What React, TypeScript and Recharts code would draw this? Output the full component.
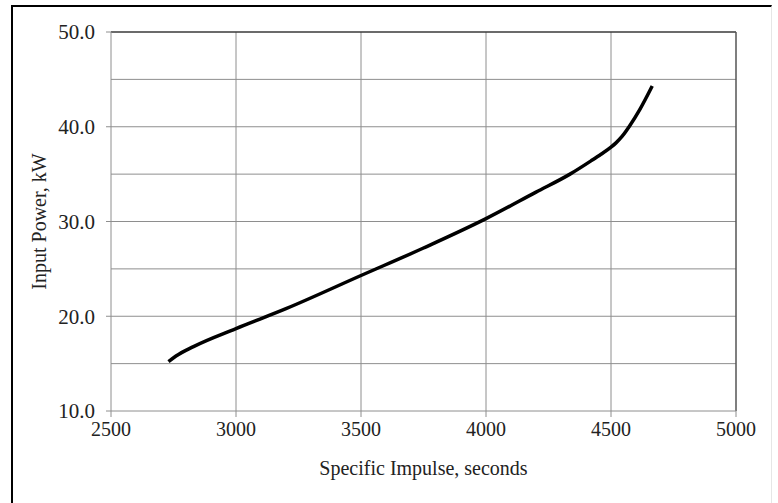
import {
  LineChart,
  Line,
  XAxis,
  YAxis,
  CartesianGrid,
  ReferenceLine,
} from "recharts";

// values
const impulse = [2730, 2760, 2830, 3000, 3200, 3500, 3750, 4000, 4200, 4336, 4420, 4460, 4500, 4520, 4545, 4575, 4615, 4665];
const power = [15.2, 15.8, 16.8, 18.7, 20.8, 24.3, 27.2, 30.3, 33.1, 35.0, 36.4, 37.1, 37.85, 38.3, 39.0, 40.1, 41.8, 44.3];

const xTicks = [2500, 3000, 3500, 4000, 4500, 5000];
const yTicks = [10, 20, 30, 40, 50];
const xGrid = [3000, 3500, 4000, 4500];
const yGrid = [15, 20, 25, 30, 35, 40, 45];

const data = impulse.map((x, i) => ({ x, y: power[i] }));

const FONT = '"Liberation Serif", "Times New Roman", serif';
const GRID = "#8e8e8e";

function YTitle({ viewBox }: { viewBox?: { x: number; y: number; width: number; height: number } }) {
  if (!viewBox) return null;
  const cx = viewBox.x + 39;
  const cy = viewBox.y + viewBox.height / 2;
  return (
    <text
      x={cx}
      y={cy}
      transform={`rotate(-90 ${cx} ${cy})`}
      textAnchor="middle"
      dominantBaseline="central"
      fill="#222"
      fontSize={20}
      fontFamily={FONT}
    >
      Input Power, kW
    </text>
  );
}

export default function App() {
  return (
    <div
      style={{
        position: "absolute",
        left: 0,
        top: 0,
        width: 778,
        height: 503,
        background: "#fff",
        fontFamily: FONT,
      }}
    >
      <div
        style={{
          position: "absolute",
          left: 11,
          top: 5,
          width: 758,
          height: 500,
          borderTop: "2.5px solid #000",
          borderLeft: "2.5px solid #000",
          borderRight: "1px solid #e6e6e6",
        }}
      />
      <div style={{ position: "absolute", left: 0, top: 0 }}>
        <LineChart
          width={778}
          height={503}
          data={data}
          margin={{ top: 32, right: 42, bottom: 0, left: 0 }}
        >
          <CartesianGrid
            stroke={GRID}
            strokeWidth={1}
            horizontalValues={yGrid}
            verticalValues={xGrid}
          />
          <XAxis
            type="number"
            dataKey="x"
            domain={[2500, 5000]}
            ticks={xTicks}
            allowDataOverflow
            height={92}
            tickSize={6}
            tickMargin={5}
            stroke={GRID}
            tick={{ fill: "#222", fontSize: 20, fontFamily: FONT }}
            label={{
              value: "Specific Impulse, seconds",
              position: "insideBottom",
              offset: 28,
              fill: "#222",
              fontSize: 20,
              fontFamily: FONT,
            }}
          />
          <YAxis
            type="number"
            domain={[10, 50]}
            ticks={yTicks}
            allowDataOverflow
            width={111}
            tickSize={5}
            tickMargin={11}
            stroke={GRID}
            tickFormatter={(v: number) => v.toFixed(1)}
            tick={{ fill: "#222", fontSize: 21, fontFamily: FONT }}
            label={<YTitle />}
          />
          <ReferenceLine y={50} stroke="#3a3a3a" strokeWidth={1.5} />
          <ReferenceLine x={5000} stroke="#555" strokeWidth={1.5} />
          <Line
            type="monotone"
            dataKey="y"
            stroke="#000"
            strokeWidth={3.5}
            dot={false}
            isAnimationActive={false}
          />
        </LineChart>
      </div>
    </div>
  );
}
